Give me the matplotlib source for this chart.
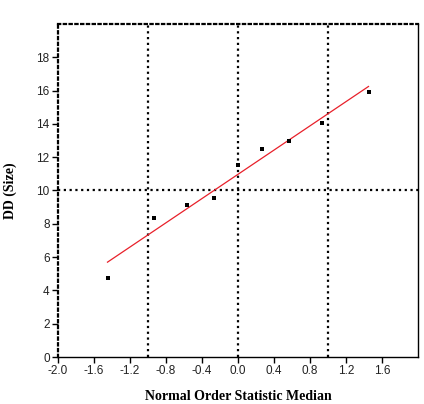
import numpy as np
import matplotlib
matplotlib.use("Agg")
import matplotlib.pyplot as plt

x_vals = [-1.45, -0.93, -0.57, -0.27, 0.0, 0.27, 0.57, 0.93, 1.45]
y_vals = [4.75, 8.35, 9.1, 9.55, 11.55, 12.5, 13.0, 14.05, 15.9]
x_ticks = [-2.0, -1.6, -1.2, -0.8, -0.4, 0.0, 0.4, 0.8, 1.2, 1.6]
y_ticks = [0, 2, 4, 6, 8, 10, 12, 14, 16, 18]
ref_x = [-1.0, 0.0, 1.0]
ref_y = [10.0]

fig = plt.figure(figsize=(4.24, 4.04), dpi=100)
ax = fig.add_axes([58/424, 47/404, 360/424, 333/404])

dot = (0, (1, 1.6))
for xv in ref_x:
    ax.axvline(xv, color='black', lw=1.6, linestyle=dot, zorder=1)
for yv in ref_y:
    ax.axhline(yv, color='black', lw=1.6, linestyle=dot, zorder=1)

slope, intercept = np.polyfit(x_vals, y_vals, 1)
xl = np.array([min(x_vals), max(x_vals)])
ax.plot(xl, slope * xl + intercept, color='#e8202a', lw=0.9, zorder=2)
ax.scatter(x_vals, y_vals, marker='s', s=9, color='black', zorder=3, linewidths=0)

ax.set_xlim(-2.0, 2.0)
ax.set_ylim(0, 20)
ax.set_xticks(x_ticks)
ax.set_xticklabels([f"{t:.1f}" for t in x_ticks])
ax.set_yticks(y_ticks)
ax.set_yticklabels([str(t) for t in y_ticks])
ax.tick_params(direction='out', length=4, width=1, labelsize=8.5, pad=2)
for lab in ax.get_xticklabels() + ax.get_yticklabels():
    lab.set_fontfamily('Liberation Sans')
    lab.set_color('#222222')

ax.spines['left'].set_linestyle(dot)
ax.spines['left'].set_linewidth(1.6)
ax.spines['top'].set_linestyle(dot)
ax.spines['top'].set_linewidth(1.6)
ax.spines['right'].set_linewidth(1.0)
ax.spines['bottom'].set_linewidth(1.0)

ax.set_xlabel('Normal Order Statistic Median', fontfamily='Liberation Serif',
              fontweight='bold', fontsize=10, labelpad=9)
ax.set_ylabel('DD (Size)', fontfamily='Liberation Serif',
              fontweight='bold', fontsize=10, labelpad=14)

fig.savefig('out.png', dpi=100)
